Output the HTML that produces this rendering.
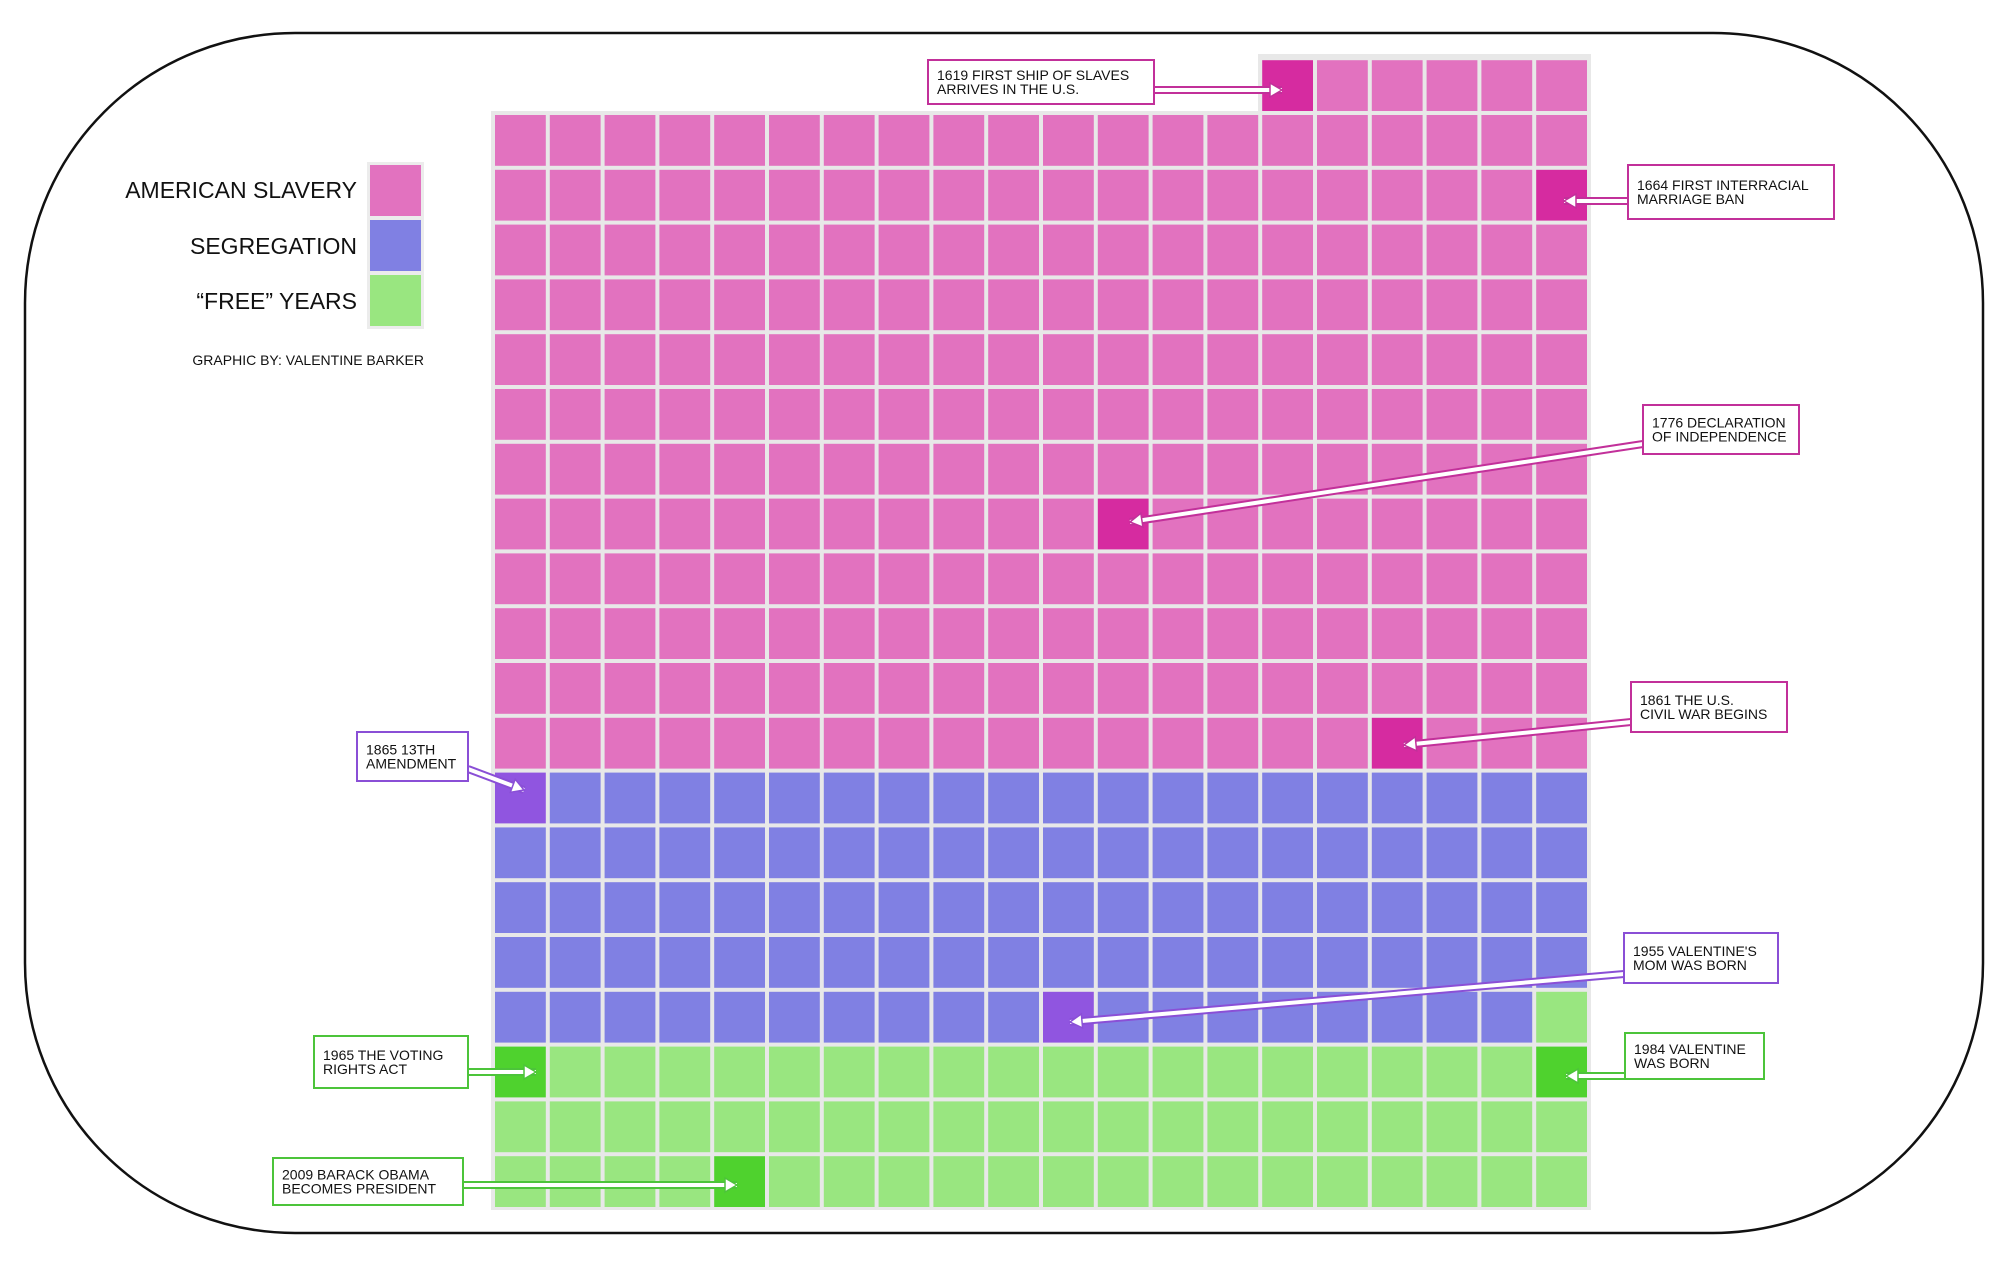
<!DOCTYPE html>
<html><head><meta charset="utf-8"><style>
html,body{margin:0;padding:0;background:#fff;overflow:hidden;}
svg{display:block;}
text{font-family:"Liberation Sans Narrow","Liberation Sans",sans-serif;fill:#111;}
.c{font-size:14px;}
</style></head><body>
<svg id="s" width="2000" height="1267" viewBox="0 0 2000 1267" xmlns="http://www.w3.org/2000/svg">
<rect x="25" y="33" width="1958" height="1200" rx="270" ry="270" fill="#fff" stroke="#111" stroke-width="2.5"/>
<rect x="491" y="111" width="1100" height="1099" fill="#e8e8e8"/>
<rect x="1258" y="54" width="333" height="60" fill="#e8e8e8"/>
<g id="cells"></g>
<rect x="367" y="162" width="57" height="167" fill="#ececec"/>
<rect x="370" y="165" width="51" height="51" fill="#e272bf"/>
<rect x="370" y="220" width="51" height="51" fill="#8080e3"/>
<rect x="370" y="275" width="51" height="51" fill="#99e680"/>
<text x="357" y="198" text-anchor="end" font-size="23">AMERICAN SLAVERY</text>
<text x="357" y="254" text-anchor="end" font-size="23">SEGREGATION</text>
<text x="357" y="309" text-anchor="end" font-size="23">“FREE” YEARS</text>
<text x="424" y="365" text-anchor="end" font-size="14">GRAPHIC BY: VALENTINE BARKER</text>
<g id="ann"></g>
</svg>
<script>
var ns="http://www.w3.org/2000/svg";
function el(t,a,p){var e=document.createElementNS(ns,t);for(var k in a)e.setAttribute(k,a[k]);(p||document.getElementById('s')).appendChild(e);return e;}
var cells=document.getElementById('cells');
var hl={1619:1,1664:1,1776:1,1861:1,1865:1,1955:1,1965:1,1984:1,2009:1};
function col(y){var h=hl[y];if(y<1865)return h?'#d62ba0':'#e272bf';if(y<1964)return h?'#9055e0':'#8080e3';return h?'#4fd22e':'#99e680';}
var P=54.8;
for(var i=0;i<406;i++){var yr=1619+i,r,c;if(i<6){r=-1;c=14+i;}else{r=Math.floor((i-6)/20);c=(i-6)%20;}
el('rect',{x:(493+c*P+2).toFixed(1),y:(113+r*P+2).toFixed(1),width:50.8,height:50.8,fill:col(yr)},cells);}
var ann=document.getElementById('ann');
var A=[
['#c2309a',928,60,226,44,['1619 FIRST SHIP OF SLAVES','ARRIVES IN THE U.S.'],1154,90,1282,90],
['#c2309a',1628,165,206,54,['1664 FIRST INTERRACIAL','MARRIAGE BAN'],1628,201,1564,201],
['#c2309a',1643,405,156,49,['1776 DECLARATION','OF INDEPENDENCE'],1643,444,1130,522],
['#c2309a',1631,682,156,50,['1861 THE U.S.','CIVIL WAR BEGINS'],1631,722,1404,745],
['#8a4fd6',357,732,111,49,['1865 13TH','AMENDMENT'],468,769,524,790],
['#8a4fd6',1624,933,154,50,['1955 VALENTINE\'S','MOM WAS BORN'],1624,974,1070,1022],
['#4cc43a',314,1036,154,52,['1965 THE VOTING','RIGHTS ACT'],468,1072,536,1072],
['#4cc43a',1625,1033,139,46,['1984 VALENTINE','WAS BORN'],1625,1076,1566,1076],
['#4cc43a',273,1158,190,47,['2009 BARACK OBAMA','BECOMES PRESIDENT'],463,1185,737,1185]];
A.forEach(function(a){var C=a[0];
el('line',{x1:a[6],y1:a[7],x2:a[8],y2:a[9],stroke:C,'stroke-width':8},ann);
el('line',{x1:a[6],y1:a[7],x2:a[8],y2:a[9],stroke:'#fff','stroke-width':4},ann);
var dx=a[8]-a[6],dy=a[9]-a[7],L=Math.hypot(dx,dy),ux=dx/L,uy=dy/L,px=-uy,py=ux;
var tx=a[8],ty=a[9],bx=tx-ux*12,by=ty-uy*12;
el('polygon',{points:tx+','+ty+' '+(bx+px*7)+','+(by+py*7)+' '+(bx-px*7)+','+(by-py*7),fill:'#fff',stroke:C,'stroke-width':1.5},ann);
el('rect',{x:a[1],y:a[2],width:a[3],height:a[4],fill:'#fff',stroke:C,'stroke-width':2},ann);
var t=el('text',{x:a[1]+9,y:a[2]+a[4]/2-2,'class':'c'},ann);t.textContent=a[5][0];
var t2=el('text',{x:a[1]+9,y:a[2]+a[4]/2+12,'class':'c'},ann);t2.textContent=a[5][1];
});
</script>
</body></html>
